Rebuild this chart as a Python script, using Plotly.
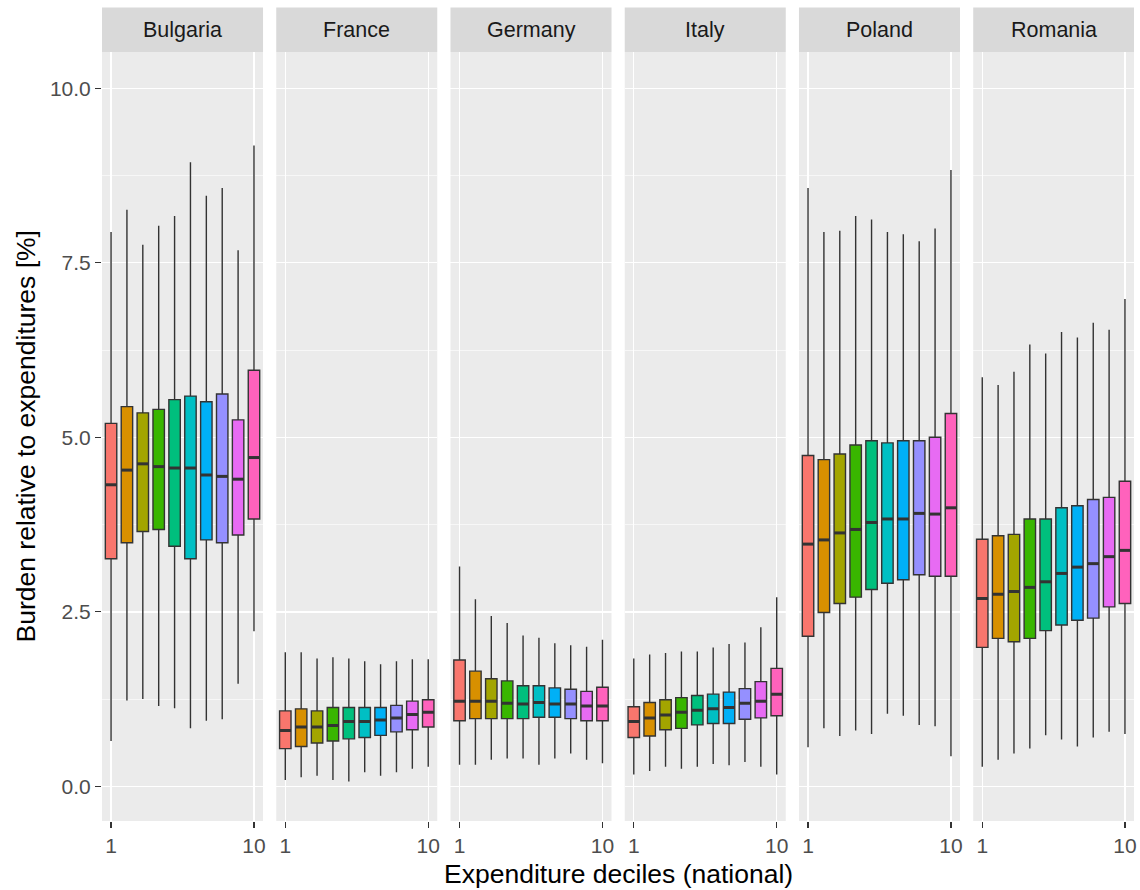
import plotly.graph_objects as go

countries = ["Bulgaria", "France", "Germany", "Italy", "Poland", "Romania"]
deciles = [1, 2, 3, 4, 5, 6, 7, 8, 9, 10]
decile_colors = ["#F8766D", "#D89000", "#A3A500", "#39B600", "#00BF7D",
                 "#00BFC4", "#00B0F6", "#9590FF", "#E76BF3", "#FF62BC"]

# Bulgaria
bg_low = [0.65, 1.23, 1.25, 1.15, 1.12, 0.83, 0.94, 0.96, 1.47, 2.22]
bg_q1 = [3.26, 3.49, 3.65, 3.68, 3.44, 3.26, 3.53, 3.49, 3.60, 3.83]
bg_med = [4.32, 4.53, 4.62, 4.58, 4.56, 4.56, 4.46, 4.44, 4.40, 4.71]
bg_q3 = [5.20, 5.44, 5.35, 5.40, 5.54, 5.59, 5.51, 5.62, 5.25, 5.96]
bg_high = [7.94, 8.26, 7.76, 8.03, 8.17, 8.94, 8.46, 8.57, 7.68, 9.18]

# France
fr_low = [0.09, 0.13, 0.15, 0.09, 0.07, 0.20, 0.15, 0.20, 0.25, 0.28]
fr_q1 = [0.54, 0.57, 0.62, 0.65, 0.68, 0.70, 0.73, 0.78, 0.81, 0.85]
fr_med = [0.80, 0.85, 0.85, 0.87, 0.93, 0.93, 0.95, 0.98, 1.03, 1.06]
fr_q3 = [1.08, 1.11, 1.08, 1.13, 1.13, 1.13, 1.13, 1.16, 1.22, 1.24]
fr_high = [1.92, 1.92, 1.83, 1.85, 1.83, 1.79, 1.75, 1.79, 1.82, 1.82]

# Germany
de_low = [0.31, 0.31, 0.38, 0.40, 0.40, 0.31, 0.40, 0.47, 0.38, 0.33]
de_q1 = [0.94, 0.97, 0.97, 0.97, 0.97, 0.99, 0.99, 0.97, 0.94, 0.94]
de_med = [1.22, 1.22, 1.22, 1.19, 1.18, 1.20, 1.18, 1.18, 1.15, 1.15]
de_q3 = [1.81, 1.65, 1.54, 1.51, 1.44, 1.44, 1.41, 1.39, 1.36, 1.42]
de_high = [3.15, 2.68, 2.44, 2.34, 2.16, 2.13, 2.05, 2.02, 2.00, 2.10]

# Italy
it_low = [0.17, 0.22, 0.28, 0.25, 0.28, 0.32, 0.30, 0.35, 0.28, 0.17]
it_q1 = [0.70, 0.72, 0.81, 0.83, 0.88, 0.90, 0.90, 0.96, 0.98, 1.01]
it_med = [0.93, 0.98, 1.02, 1.06, 1.09, 1.11, 1.13, 1.19, 1.22, 1.32]
it_q3 = [1.14, 1.20, 1.24, 1.27, 1.30, 1.32, 1.35, 1.40, 1.50, 1.69]
it_high = [1.83, 1.89, 1.91, 1.93, 1.93, 1.99, 2.04, 2.06, 2.28, 2.71]

# Poland
pl_low = [0.56, 0.83, 0.72, 0.80, 0.75, 1.04, 1.01, 0.88, 0.86, 0.43]
pl_q1 = [2.15, 2.49, 2.62, 2.71, 2.82, 2.91, 2.96, 3.03, 3.01, 3.01]
pl_med = [3.47, 3.53, 3.63, 3.68, 3.78, 3.83, 3.83, 3.91, 3.90, 3.99]
pl_q3 = [4.74, 4.68, 4.76, 4.89, 4.95, 4.92, 4.95, 4.95, 5.00, 5.34]
pl_high = [8.57, 7.94, 7.96, 8.17, 8.12, 7.94, 7.91, 7.81, 7.99, 8.83]

# Romania
ro_low = [0.28, 0.38, 0.47, 0.54, 0.73, 0.67, 0.57, 0.70, 0.78, 0.75]
ro_q1 = [1.99, 2.12, 2.07, 2.12, 2.23, 2.31, 2.38, 2.41, 2.57, 2.62]
ro_med = [2.69, 2.75, 2.79, 2.85, 2.93, 3.05, 3.14, 3.19, 3.29, 3.38]
ro_q3 = [3.54, 3.59, 3.61, 3.83, 3.83, 3.99, 4.02, 4.11, 4.14, 4.37]
ro_high = [5.86, 5.75, 5.94, 6.33, 6.20, 6.51, 6.43, 6.64, 6.54, 6.98]

y_tick_vals = [0.0, 2.5, 5.0, 7.5, 10.0]
y_tick_text = ["0.0", "2.5", "5.0", "7.5", "10.0"]
x_tick_vals = [1, 10]
x_tick_text = ["1", "10"]

stats = {
    "Bulgaria": (bg_low, bg_q1, bg_med, bg_q3, bg_high),
    "France": (fr_low, fr_q1, fr_med, fr_q3, fr_high),
    "Germany": (de_low, de_q1, de_med, de_q3, de_high),
    "Italy": (it_low, it_q1, it_med, it_q3, it_high),
    "Poland": (pl_low, pl_q1, pl_med, pl_q3, pl_high),
    "Romania": (ro_low, ro_q1, ro_med, ro_q3, ro_high),
}

FONT = "Liberation Sans, Arial, sans-serif"
W, H = 1140, 890
ML, MR, MT, MB = 102, 3, 52, 69
plot_w = W - ML - MR
plot_h = H - MT - MB
panel_px = 161.5
step_px = 174.75
strip_px = 44.4
box_w = 0.72

fig = go.Figure()
layout = {}
shapes = []
annotations = []

for i, c in enumerate(countries):
    n = "" if i == 0 else str(i + 1)
    xa, ya = "x" + n, "y" + n
    low, q1, med, q3, high = stats[c]
    for j, d in enumerate(deciles):
        fig.add_trace(go.Box(
            x=[d], q1=[q1[j]], median=[med[j]], q3=[q3[j]],
            lowerfence=[low[j]], upperfence=[high[j]],
            width=box_w, whiskerwidth=0,
            fillcolor=decile_colors[j],
            line=dict(color="#333333", width=1.4),
            xaxis=xa, yaxis=ya, showlegend=False, hoverinfo="skip",
        ))
        # thicker median line (ggplot fatten)
        fig.add_trace(go.Scatter(
            x=[d - box_w / 2, d + box_w / 2], y=[med[j], med[j]],
            mode="lines", line=dict(color="#333333", width=3),
            xaxis=xa, yaxis=ya, showlegend=False, hoverinfo="skip",
        ))
    x0 = min(1.0, i * step_px / plot_w)
    x1 = min(1.0, (i * step_px + panel_px) / plot_w)
    layout["xaxis" + n] = dict(
        domain=[x0, x1], range=[0.43, 10.57], anchor=ya,
        tickvals=x_tick_vals, ticktext=x_tick_text,
        showgrid=True, gridcolor="white", gridwidth=1.4,
        zeroline=False, showline=False,
        ticks="outside", ticklen=6, tickwidth=1.3, tickcolor="#333333",
        tickfont=dict(family=FONT, size=21, color="#4D4D4D"),
        fixedrange=True,
    )
    ydict = dict(
        domain=[0, 1], range=[-0.497, 10.52], anchor=xa,
        tickvals=y_tick_vals,
        showticklabels=(i == 0),
        ticks="outside" if i == 0 else "", ticklen=6, tickwidth=1.3, tickcolor="#333333",
        showgrid=True, gridcolor="white", gridwidth=1.4,
        minor=dict(dtick=1.25, tick0=0, showgrid=True, gridcolor="white", gridwidth=0.6),
        zeroline=False, showline=False,
        tickfont=dict(family=FONT, size=21, color="#4D4D4D"),
        fixedrange=True,
    )
    if i == 0:
        ydict["ticktext"] = y_tick_text
    layout["yaxis" + n] = ydict
    # panel background
    shapes.append(dict(type="rect", xref="paper", yref="paper",
                       x0=x0, x1=x1, y0=0, y1=1,
                       fillcolor="#EBEBEB", line=dict(width=0), layer="below"))
    # strip
    shapes.append(dict(type="rect", xref="paper", yref="paper",
                       x0=x0, x1=x1, y0=1, y1=1 + strip_px / plot_h,
                       fillcolor="#D9D9D9", line=dict(width=0), layer="below"))
    annotations.append(dict(text=c, xref="paper", yref="paper",
                            x=(x0 + x1) / 2, y=1 + strip_px / 2 / plot_h,
                            showarrow=False, xanchor="center", yanchor="middle",
                            font=dict(family=FONT, size=21.5, color="#1A1A1A")))

annotations.append(dict(text="Expenditure deciles (national)", xref="paper", yref="paper",
                        x=0.5, y=0, yshift=-53,
                        showarrow=False, xanchor="center", yanchor="middle",
                        font=dict(family=FONT, size=26.5, color="black")))
annotations.append(dict(text="Burden relative to expenditures [%]", xref="paper", yref="paper",
                        x=0, xshift=-77, y=0.5, textangle=-90,
                        showarrow=False, xanchor="center", yanchor="middle",
                        font=dict(family=FONT, size=26.5, color="black")))

fig.update_layout(
    width=W, height=H,
    margin=dict(l=ML, r=MR, t=MT, b=MB),
    paper_bgcolor="white", plot_bgcolor="rgba(0,0,0,0)",
    showlegend=False, boxmode="overlay", hovermode=False,
    shapes=shapes, annotations=annotations,
    **layout,
)

fig.write_html("out.html",
               config={"displayModeBar": False, "staticPlot": True},
               post_script="document.body.style.margin='0';document.body.style.overflow='hidden';")
